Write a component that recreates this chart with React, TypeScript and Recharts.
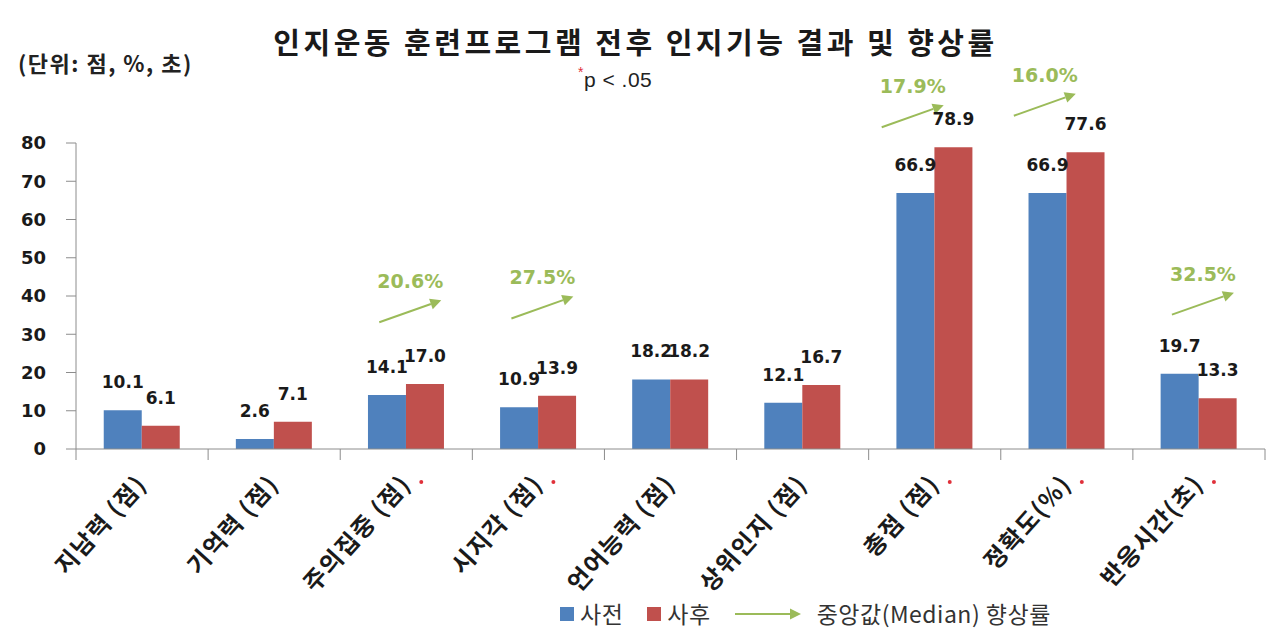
import React from "react";
import { BarChart, Bar, XAxis, YAxis, LabelList, ReferenceDot } from "recharts";

const categories = [
  "지남력 (점)",
  "기억력 (점)",
  "주의집중 (점)",
  "시지각 (점)",
  "언어능력 (점)",
  "상위인지 (점)",
  "총점 (점)",
  "정확도(%)",
  "반응시간(초)",
];
const preValues = [10.1, 2.6, 14.1, 10.9, 18.2, 12.1, 66.9, 66.9, 19.7];
const postValues = [6.1, 7.1, 17.0, 13.9, 18.2, 16.7, 78.9, 77.6, 13.3];
const significant = [false, false, true, true, false, false, true, true, true];
const medianGain: (number | null)[] = [null, null, 20.6, 27.5, null, null, 17.9, 16.0, 32.5];
const arrowLevel: (number | null)[] = [null, null, 36, 37, null, null, 87, 90, 38];
const yTicks = [0, 10, 20, 30, 40, 50, 60, 70, 80];

const BLUE = "#4F81BD";
const RED = "#C0504D";
const GREEN = "#9BBB59";
const AXIS = "#8c8c8c";
const NUM_FONT = "'DejaVu Sans', sans-serif";
const KR_FONT = "'Noto Sans CJK KR', 'Noto Sans', sans-serif";

const W = 1271;
const H = 636;
const Y_AXIS_W = 76;
const RIGHT = 6;
const BAND = (W - Y_AXIS_W - RIGHT) / categories.length;

const data = categories.map((name, i) => ({
  name,
  pre: preValues[i],
  post: postValues[i],
}));

function CategoryTick(props: any) {
  const { x, y, payload, index } = props;
  const ax = x + 6;
  const ay = y + 36;
  const sig = significant[index];
  return (
    <g>
      <line x1={x - BAND / 2} x2={x - BAND / 2} y1={y} y2={y + 11} stroke={AXIS} />
      {index === categories.length - 1 && (
        <line x1={x + BAND / 2} x2={x + BAND / 2} y1={y} y2={y + 11} stroke={AXIS} />
      )}
      <text
        x={ax}
        y={ay}
        transform={`rotate(-48, ${ax}, ${ay})`}
        textAnchor="end"
        fontFamily={KR_FONT}
        fontWeight={700}
        fontSize={24}
        letterSpacing={1.5}
        fill="#1a1a1a"
      >
        {payload.value}
      </text>
      {sig && <circle cx={x + 15} cy={y + 33} r={2} fill="#e0303a" />}
    </g>
  );
}

function GainArrow(props: any) {
  const { cx, cy, label } = props;
  if (cx == null || cy == null) return null;
  const mx = cx + (cy < 150 ? -22 : 4);
  const x1 = mx - 31;
  const y1 = cy + 11;
  const x2 = mx + 31;
  const y2 = cy - 11;
  const ang = Math.atan2(y2 - y1, x2 - x1);
  const len = 11;
  const hw = 5.5;
  const bx = x2 - len * Math.cos(ang);
  const by = y2 - len * Math.sin(ang);
  const px = -Math.sin(ang) * hw;
  const py = Math.cos(ang) * hw;
  return (
    <g>
      <line x1={x1} y1={y1} x2={bx} y2={by} stroke={GREEN} strokeWidth={2} />
      <polygon points={`${x2},${y2} ${bx + px},${by + py} ${bx - px},${by - py}`} fill={GREEN} />
      <text
        x={mx}
        y={cy - 23}
        textAnchor="middle"
        fontFamily={NUM_FONT}
        fontWeight={700}
        fontSize={19}
        fill={GREEN}
      >
        {label}
      </text>
    </g>
  );
}

export default function App() {
  return (
    <div
      style={{
        position: "absolute",
        left: 0,
        top: 0,
        width: W,
        height: H,
        background: "#fff",
        overflow: "hidden",
      }}
    >
      <div
        style={{
          position: "absolute",
          left: 0,
          top: 27,
          width: W,
          textAlign: "center",
          fontFamily: KR_FONT,
          fontWeight: 700,
          fontSize: 29,
          lineHeight: 1,
          letterSpacing: 3.5,
          color: "#1a1a1a",
        }}
      >
        인지운동 훈련프로그램 전후 인지기능 결과 및 향상률
      </div>
      <div
        style={{
          position: "absolute",
          left: 18,
          top: 51,
          fontFamily: KR_FONT,
          fontWeight: 700,
          fontSize: 22,
          lineHeight: 1,
          letterSpacing: 1.5,
          color: "#222",
        }}
      >
        (단위: 점, %, 초)
      </div>
      <div
        style={{
          position: "absolute",
          left: 578,
          top: 69,
          fontFamily: "'Liberation Sans', sans-serif",
          fontSize: 21,
          lineHeight: 1,
          letterSpacing: 0.5,
          color: "#222",
        }}
      >
        <span style={{ color: "#e0303a", fontSize: 14, verticalAlign: "top", position: "relative", top: -4 }}>*</span>
        p &lt; .05
      </div>

      <BarChart
        width={W}
        height={H}
        data={data}
        margin={{ top: 143, right: RIGHT, left: 0, bottom: 0 }}
        barCategoryGap="21%"
        barGap={0}
      >
        <YAxis
          width={Y_AXIS_W}
          domain={[0, 80]}
          ticks={yTicks}
          interval={0}
          tickSize={10}
          tickMargin={20}
          axisLine={{ stroke: AXIS }}
          tickLine={{ stroke: AXIS }}
          tick={{ fontFamily: NUM_FONT, fontWeight: 700, fontSize: 18, fill: "#1a1a1a" }}
        />
        <XAxis
          dataKey="name"
          height={H - 449}
          interval={0}
          tickLine={false}
          tickSize={0}
          tickMargin={0}
          axisLine={{ stroke: AXIS }}
          tick={<CategoryTick />}
        />
        <Bar dataKey="pre" name="사전" fill={BLUE} isAnimationActive={false}>
          <LabelList
            dataKey="pre"
            position="top"
            offset={22}
            formatter={(v: any) => Number(v).toFixed(1)}
            style={{ fontFamily: NUM_FONT, fontWeight: 700, fontSize: 17, fill: "#1a1a1a" }}
          />
        </Bar>
        <Bar dataKey="post" name="사후" fill={RED} isAnimationActive={false}>
          <LabelList
            dataKey="post"
            position="top"
            offset={22}
            formatter={(v: any) => Number(v).toFixed(1)}
            style={{ fontFamily: NUM_FONT, fontWeight: 700, fontSize: 17, fill: "#1a1a1a" }}
          />
        </Bar>
        {categories.map((c, i) =>
          medianGain[i] == null ? null : (
            <ReferenceDot
              key={c}
              x={c}
              y={arrowLevel[i] as number}
              ifOverflow="visible"
              shape={(p: any) => <GainArrow {...p} label={`${(medianGain[i] as number).toFixed(1)}%`} />}
            />
          )
        )}
      </BarChart>

      <div
        style={{
          position: "absolute",
          left: 560,
          top: 602,
          display: "flex",
          alignItems: "center",
          fontFamily: KR_FONT,
          fontSize: 23,
          lineHeight: 1,
          letterSpacing: 0.5,
          color: "#333",
          whiteSpace: "nowrap",
        }}
      >
        <span style={{ width: 14, height: 14, background: BLUE, display: "inline-block", marginRight: 6 }} />
        <span style={{ marginRight: 24 }}>사전</span>
        <span style={{ width: 14, height: 14, background: RED, display: "inline-block", marginRight: 6 }} />
        <span style={{ marginRight: 22 }}>사후</span>
        <svg width={70} height={14} style={{ marginRight: 14 }}>
          <line x1={2} y1={7} x2={58} y2={7} stroke={GREEN} strokeWidth={2} />
          <polygon points="68,7 57,1.5 57,12.5" fill={GREEN} />
        </svg>
        <span>중앙값(Median) 향상률</span>
      </div>
    </div>
  );
}
